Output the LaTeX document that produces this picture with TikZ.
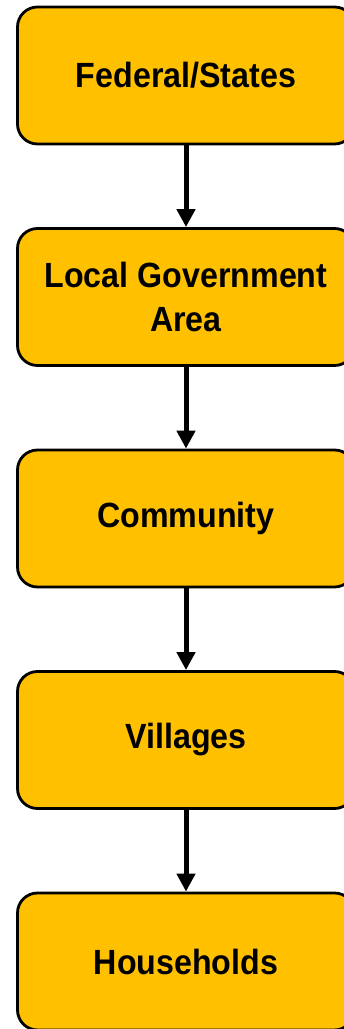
\documentclass[tikz,border=0pt]{standalone}
\usepackage{fontspec}
\setmainfont{Liberation Sans}[FakeStretch=0.92]
\usetikzlibrary{arrows.meta}
\definecolor{boxfill}{HTML}{FFC000}
\tikzset{
  levelbox/.style={draw=black, line width=2.8pt, fill=boxfill, rounded corners=20pt,
    minimum width=337pt, minimum height=137pt, inner sep=0pt, align=center,
    font=\bfseries\fontsize{35}{44}\selectfont},
  downarrow/.style={line width=5pt, -{Triangle[length=18pt,width=18pt]}, shorten >=0pt}
}
\begin{document}
\begin{tikzpicture}[x=1pt,y=1pt]
  \useasboundingbox (0,0) rectangle (344,1029);
  \clip (0,0) rectangle (344,1029);
  \node[levelbox] (fed) at (186,1029-75.5) {Federal/States};
  \node[levelbox] (lga) at (186,1029-297) {Local Government\\Area};
  \node[levelbox] (com) at (186,1029-518.5) {Community};
  \node[levelbox] (vil) at (186,1029-740) {Villages};
  \node[levelbox] (hh) at (186,1029-961.5) {Households};
  \draw[downarrow] (fed.south) -- (lga.north);
  \draw[downarrow] (lga.south) -- (com.north);
  \draw[downarrow] (com.south) -- (vil.north);
  \draw[downarrow] (vil.south) -- (hh.north);
\end{tikzpicture}
\end{document}
